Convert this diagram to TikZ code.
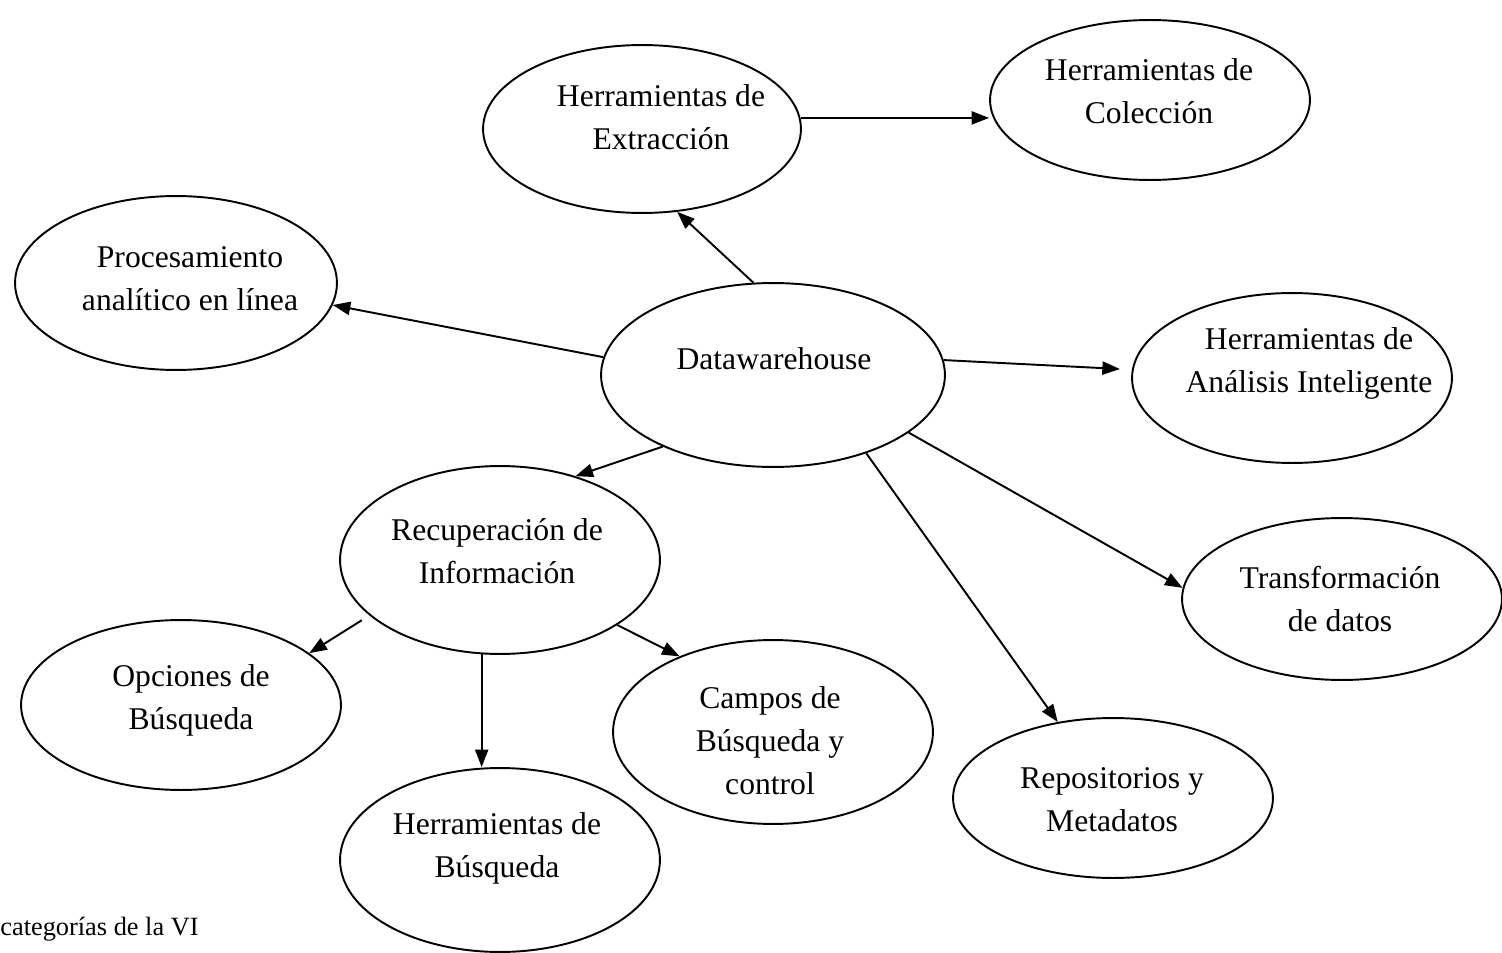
\documentclass[tikz,border=0pt]{standalone}
\usepackage{fontspec}
\setmainfont{Liberation Serif}
\usetikzlibrary{shapes.geometric,arrows.meta}

\tikzset{
  bubble/.style 2 args={ellipse, draw, line width=1.1pt, inner sep=0pt,
    minimum width={#1*0.04cm}, minimum height={#2*0.04cm}},
  caption/.style={align=center, inner sep=0pt,
    font=\fontsize{18}{24.5}\selectfont},
  link/.style={line width=1.1pt, -{Triangle[length=10pt,width=7.5pt]}}
}

\begin{document}
\begin{tikzpicture}[x=0.02cm, y=-0.02cm]
  \useasboundingbox (0,0) rectangle (1502,953);

  % ellipses
  \node[bubble={159}{84}] (ext) at (642,129) {};
  \node[bubble={160}{80}] (col) at (1150,100) {};
  \node[bubble={161}{87}] (proc) at (176,283) {};
  \node[bubble={172}{92}] (dw) at (773,375) {};
  \node[bubble={160}{85}] (ana) at (1292,378) {};
  \node[bubble={160}{94}] (rec) at (500,560) {};
  \node[bubble={160}{81}] (tra) at (1342,599) {};
  \node[bubble={160}{85}] (opc) at (181,705) {};
  \node[bubble={160}{92}] (cam) at (773,732) {};
  \node[bubble={160}{92}] (bus) at (500,860) {};
  \node[bubble={160}{80}] (rep) at (1113,798) {};

  % labels
  \node[caption] (t-ext) at (661,117) {Herramientas de\\Extracción};
  \node[caption] (t-col) at (1149,91) {Herramientas de\\Colección};
  \node[caption] (t-proc) at (190,279) {Procesamiento\\analítico en línea};
  \node[caption] (t-dw) at (774,359) {Datawarehouse};
  \node[caption] (t-ana) at (1309,363) {Herramientas de\\Análisis Inteligente};
  \node[caption] (t-rec) at (497,551) {Recuperación de\\Información};
  \node[caption] (t-tra) at (1340,599) {Transformación\\de datos};
  \node[caption] (t-opc) at (191,700) {Opciones de\\Búsqueda};
  \node[caption] (t-cam) at (770,741) {Campos de\\Búsqueda y\\control};
  \node[caption] (t-bus) at (497,848) {Herramientas de\\Búsqueda};
  \node[caption] (t-rep) at (1112,800) {Repositorios y\\Metadatos};

  \node[anchor=west, inner sep=0pt, font=\fontsize{15}{18}\selectfont]
    (t-cap) at (0,929) {categorías de la VI};

  % connectors
  \draw[link] (ext.4.7) -- (ext.4.7 -| col.west);
  \draw[link] (dw.102) -- (ext.293.8);
  \draw[link] (dw.174.4) -- (proc.352.2);
  \draw[link, shorten >=0.24cm] (dw.5.3) -- (ana.177);
  \draw[link] (dw.213.5) -- (rec.48);
  \draw[link] (dw.337) -- (tra.176);
  \draw[link] (dw.320.3) -- (rep.126.2);
  \draw[link, shorten <=0.18cm] (rec.203.5) -- (opc.22.6);
  \draw[link] (rec.259.5) -- (rec.259.5 |- bus.north);
  \draw[link] (rec.331.3) -- (cam.141);
\end{tikzpicture}
\end{document}
